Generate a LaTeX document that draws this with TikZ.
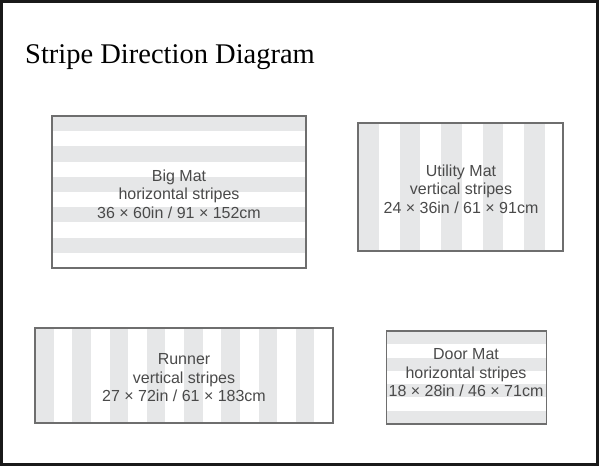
\documentclass[tikz,border=0pt]{standalone}
\usepackage{fontspec}
\setmainfont{Liberation Serif}
\newfontfamily\matfont{Liberation Sans}
\definecolor{stripegray}{HTML}{E6E7E8}
\definecolor{matgray}{HTML}{6E6E6E}
\definecolor{labelgray}{HTML}{4A4A4A}
\tikzset{
  frame/.style    = {draw=black!90, line width=3pt},
  stripe/.style   = {fill=stripegray},
  matline/.style  = {draw=matgray, line width=1.2pt},
  matlabel/.style = {align=center, text=labelgray, inner sep=0pt,
                     font=\matfont\fontsize{16}{18.5}\selectfont},
}
\begin{document}
\begin{tikzpicture}[x=1pt, y=-1pt]
        \useasboundingbox (0,0) rectangle (600,467);
        \draw[frame] (1.5,1.5) rectangle (597.5,464.5);
        \node[anchor=base west, inner sep=0pt, font=\fontsize{28.5}{32}\selectfont]
             (title) at (25,63) {Stripe Direction Diagram};

        % Big Mat, horizontal
        \foreach \i in {0,...,4}
          \fill[stripe] (52,116+\i*30.4) rectangle (306,131.2+\i*30.4);
        \draw[matline] (52,116) rectangle (306,268);
        \node[matlabel] (bigmat) at (179,193.9)
             {Big Mat\\horizontal stripes\\36 × 60in / 91 × 152cm};

        % Utility Mat, vertical
        \foreach \i in {0,...,4}
          \fill[stripe] (358+\i*41.5,123) rectangle (378.75+\i*41.5,251);
        \draw[matline] (358,123) rectangle (563,251);
        \node[matlabel] (utilitymat) at (461,189)
             {Utility Mat\\vertical stripes\\24 × 36in / 61 × 91cm};

        % Runner, vertical
        \foreach \i in {0,...,7}
          \fill[stripe] (35+\i*37.25,328) rectangle (53.6+\i*37.25,423);
        \draw[matline] (35,328) rectangle (333,423);
        \node[matlabel] (runner) at (184,377.6)
             {Runner\\vertical stripes\\27 × 72in / 61 × 183cm};

        % Door Mat, horizontal
        \foreach \i in {0,...,3}
          \fill[stripe] (386.7,331+\i*26.57) rectangle (546.7,344.3+\i*26.57);
        \draw[matline] (386.7,331) rectangle (546.7,424);
        \node[matlabel] (doormat) at (466,372.9)
             {Door Mat\\horizontal stripes\\18 × 28in / 46 × 71cm};
\end{tikzpicture}
\end{document}
